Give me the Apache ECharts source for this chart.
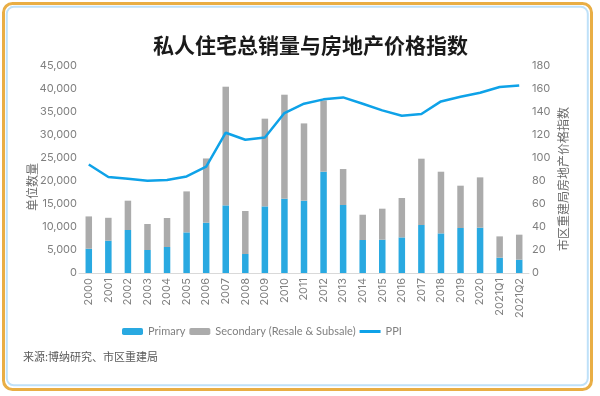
<!DOCTYPE html>
<html><head><meta charset="utf-8">
<script src="https://cdn.jsdelivr.net/npm/echarts@6/dist/echarts.min.js"></script>
<style>html,body{margin:0;padding:0;background:#fff}#c{width:600px;height:396px}</style>
</head><body><div id="c"></div>
<script>
var categories = ['2000','2001','2002','2003','2004','2005','2006','2007','2008','2009','2010','2011','2012','2013','2014','2015','2016','2017','2018','2019','2020','2021Q1','2021Q2'];
var primary = [5280,7020,9350,5000,5650,8830,10940,14700,4130,14480,16150,15720,22020,14780,7170,7240,7740,10430,8610,9780,9850,3330,2890];
var secondary = [7020,4980,6370,5650,6310,8910,13960,25800,9350,19070,22610,16800,15500,7820,5500,6740,8560,14420,13410,9200,10940,4630,5440];
var ppi = [94.4,83.5,82.0,80.3,80.9,84.0,92.4,122.0,115.9,117.9,139.1,147.2,151.0,152.7,147.2,141.4,136.8,138.3,149.2,153.3,156.8,161.7,163.1];
var leftTicks = {min:0, max:45000, interval:5000};
var rightTicks = {min:0, max:180, interval:20};

var FONT = 'Inter, "Noto Sans", sans-serif';
var CJK = '"Noto Sans CJK SC", sans-serif';
var chart = echarts.init(document.getElementById('c'), null, {renderer:'canvas'});
chart.setOption({
  animation:false,
  backgroundColor:'#fff',
  title:{text:'私人住宅总销量与房地产价格指数', left:148, top:30,
    textStyle:{fontFamily:CJK, fontSize:21, fontWeight:'bold', color:'#1a1a1a'}},
  grid:{left:79, right:71, top:66, bottom:123},
  legend:{left:122, top:326, padding:0, itemWidth:21, itemHeight:7, itemGap:4,
    textStyle:{fontFamily:'Lato, sans-serif', fontSize:11, color:'#7f7f7f'},
    data:['Primary','Secondary (Resale & Subsale)',{name:'PPI', icon:'path://M0,0H21V3H0Z'}]},
  xAxis:{type:'category', data:categories,
    axisLine:{lineStyle:{color:'#d9d9d9', width:1}}, axisTick:{show:false},
    axisLabel:{rotate:90, fontFamily:FONT, fontSize:11, color:'#7f7f7f', margin:5, interval:0}},
  yAxis:[
    {type:'value', min:leftTicks.min, max:leftTicks.max, interval:leftTicks.interval,
     splitLine:{show:false}, axisLine:{show:false}, axisTick:{show:false},
     axisLabel:{fontFamily:FONT, fontSize:11, color:'#7f7f7f', margin:2,
       formatter:function(v){return v.toLocaleString('en-US');}}},
    {type:'value', min:rightTicks.min, max:rightTicks.max, interval:rightTicks.interval,
     splitLine:{show:false}, axisLine:{show:false}, axisTick:{show:false},
     axisLabel:{fontFamily:FONT, fontSize:11, color:'#7f7f7f', margin:3}}
  ],
  series:[
    {name:'Primary', type:'bar', stack:'s', data:primary, barWidth:6.5, itemStyle:{color:'#29a9e1'}},
    {name:'Secondary (Resale & Subsale)', type:'bar', stack:'s', data:secondary, barWidth:6.5, itemStyle:{color:'#ababab'}},
    {name:'PPI', type:'line', yAxisIndex:1, data:ppi, symbol:'none', smooth:false,
     lineStyle:{color:'#0ea2e8', width:2.5}, itemStyle:{color:'#0ea2e8'}}
  ],
  graphic:[
    {type:'rect', shape:{x:3.5, y:3.5, width:588, height:386, r:9}, style:{fill:'none', stroke:'#e9ae45', lineWidth:3}, z:-1},
    {type:'rect', shape:{x:6.8, y:6.8, width:581, height:378.5, r:7}, style:{fill:'none', stroke:'#bfe1f9', lineWidth:2}, z:-1},
    {type:'text', x:32, y:187, rotation:Math.PI/2, style:{text:'单位数量', fontFamily:CJK, fontSize:12, fill:'#6b6b6b', textAlign:'center', textVerticalAlign:'middle'}},
    {type:'text', x:563, y:179, rotation:Math.PI/2, style:{text:'市区重建局房地产价格指数', fontFamily:CJK, fontSize:12, fill:'#6b6b6b', textAlign:'center', textVerticalAlign:'middle'}},
    {type:'text', x:23, y:357, style:{text:'来源:博纳研究、市区重建局', fontFamily:CJK, fontSize:11, fill:'#595959', textAlign:'left', textVerticalAlign:'middle'}}
  ]
});
</script></body></html>
